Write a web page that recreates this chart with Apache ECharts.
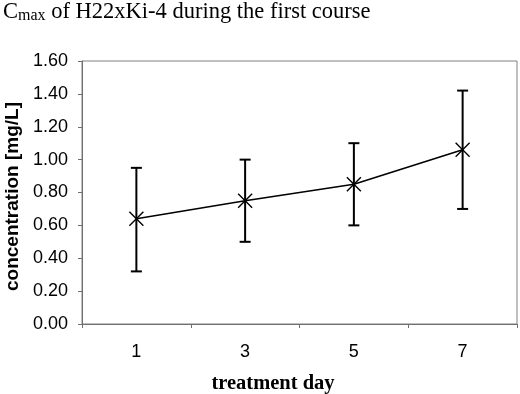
<!DOCTYPE html>
<html>
<head>
<meta charset="utf-8">
<script src="https://cdn.jsdelivr.net/npm/echarts@6/dist/echarts.min.js"></script>
<style>
  html, body { margin: 0; padding: 0; background: #fff; }
  #chart { width: 520px; height: 394px; }
</style>
</head>
<body>
<div id="chart"></div>
<script>
// values
const days = ['1', '3', '5', '7'];
const meanConc = [0.64, 0.75, 0.85, 1.06];
const upperConc = [0.95, 1.00, 1.10, 1.42];
const lowerConc = [0.32, 0.50, 0.60, 0.70];

const serif = '"Liberation Serif", "Times New Roman", serif';
const sans = '"Liberation Sans", Arial, sans-serif';

const chart = echarts.init(document.getElementById('chart'), null, { renderer: 'canvas' });

// error bars: one item per day -> [index, low, high]
const errData = days.map((d, i) => [i, lowerConc[i], upperConc[i]]);

function renderErrorBar(params, api) {
    const x = api.value(0);
    const top = api.coord([x, api.value(2)]);
    const bottom = api.coord([x, api.value(1)]);
    const half = 5.5;
    const style = { stroke: '#000', lineWidth: 2 };
    return {
        type: 'group',
        children: [
            { type: 'line', shape: { x1: top[0], y1: top[1], x2: bottom[0], y2: bottom[1] }, style: style },
            { type: 'line', shape: { x1: top[0] - half, y1: top[1], x2: top[0] + half, y2: top[1] }, style: style },
            { type: 'line', shape: { x1: bottom[0] - half, y1: bottom[1], x2: bottom[0] + half, y2: bottom[1] }, style: style }
        ]
    };
}

const titleFont = { fontFamily: serif, fontWeight: 'normal', color: '#000', verticalAlign: 'bottom' };

const option = {
    backgroundColor: '#fff',
    animation: false,
    title: {
        text: '{c|C}{s|max}{t| of H22xKi-4 during the first course}',
        left: 3,
        top: 0,
        padding: 0,
        textStyle: {
            fontWeight: 'normal',
            rich: {
                c: Object.assign({ fontSize: 22.5, lineHeight: 24 }, titleFont),
                s: Object.assign({ fontSize: 16, lineHeight: 17 }, titleFont),
                t: Object.assign({ fontSize: 22.5, lineHeight: 24 }, titleFont)
            }
        }
    },
    grid: {
        left: 82,
        right: 3,
        top: 61,
        bottom: 70,
        show: true,
        borderColor: '#808080',
        borderWidth: 1,
        containLabel: false,
        outerBoundsMode: 'none'
    },
    xAxis: {
        type: 'category',
        data: days,
        boundaryGap: true,
        name: 'treatment day',
        nameLocation: 'middle',
        nameGap: 49,
        nameTextStyle: {
            fontFamily: serif,
            fontSize: 20.5,
            fontWeight: 'bold',
            color: '#000',
            padding: [0, 53, 0, 0]
        },
        axisLine: { lineStyle: { color: '#707070', width: 1 } },
        axisTick: { show: true, length: 4, inside: false, lineStyle: { color: '#707070' } },
        axisLabel: { fontFamily: sans, fontSize: 18, color: '#000', margin: 19 },
        splitLine: { show: false }
    },
    yAxis: {
        type: 'value',
        min: 0,
        max: 1.6,
        interval: 0.2,
        name: 'concentration [mg/L]',
        nameLocation: 'middle',
        nameGap: 60,
        nameTextStyle: {
            fontFamily: sans,
            fontSize: 19,
            fontWeight: 'bold',
            color: '#000',
            padding: [0, 8, 0, 0]
        },
        axisLine: { show: true, lineStyle: { color: '#707070', width: 1 } },
        axisTick: { show: true, length: 4, inside: false, lineStyle: { color: '#707070' } },
        axisLabel: {
            fontFamily: sans,
            fontSize: 18,
            color: '#000',
            margin: 14,
            formatter: v => v.toFixed(2)
        },
        splitLine: { show: false }
    },
    series: [
        {
            name: 'error',
            type: 'custom',
            renderItem: renderErrorBar,
            data: errData,
            encode: { x: 0, y: [1, 2] },
            z: 2
        },
        {
            name: 'Cmax',
            type: 'line',
            data: meanConc,
            symbol: 'path://M0,0L10,10M10,0L0,10',
            symbolSize: 14,
            showSymbol: true,
            lineStyle: { color: '#000', width: 1.6 },
            itemStyle: { color: 'rgba(0,0,0,0)', borderColor: '#000', borderWidth: 1.4 },
            z: 3
        }
    ]
};

chart.setOption(option);
</script>
</body>
</html>
